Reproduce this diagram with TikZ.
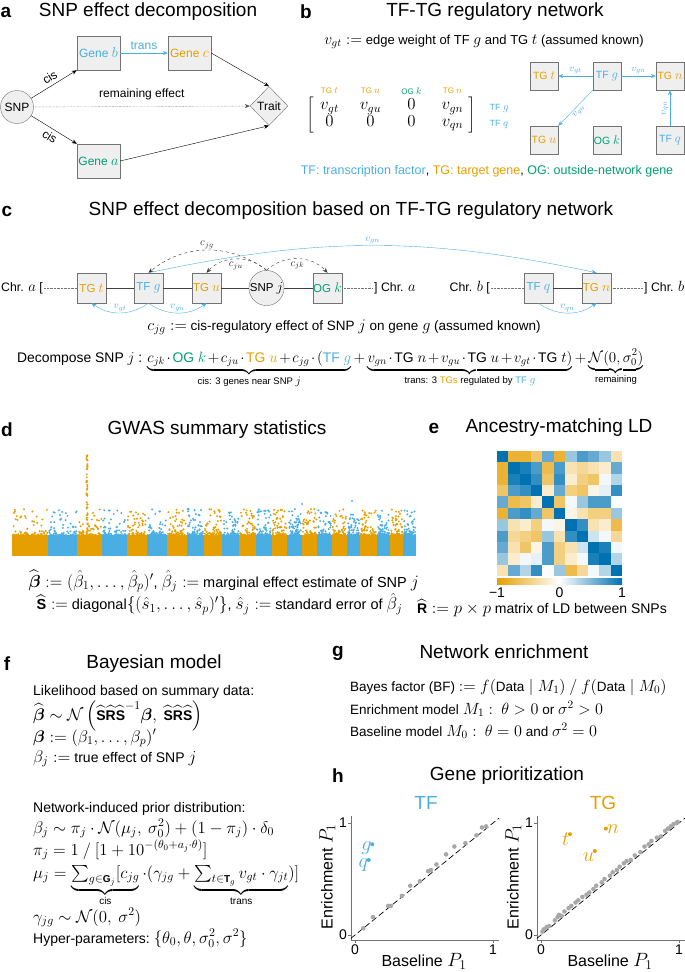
\RequirePackage{fix-cm}
\documentclass[tikz,border=0pt]{standalone}
\usepackage{amsmath,amssymb}
\usepackage{fontspec}
\setmainfont{Liberation Sans}
\setsansfont{Liberation Sans}
\usepackage{xcolor}
\usetikzlibrary{arrows.meta, shapes.geometric, positioning, matrix}

% math a bit larger than the sans text, as in the figure
\DeclareMathSizes{8}{9.6}{7}{5}
\DeclareMathSizes{8.5}{10.2}{7.2}{5.2}
\DeclareMathSizes{9}{10.8}{7.6}{5.4}
\DeclareMathSizes{9.5}{11.4}{8}{5.7}
\DeclareMathSizes{10}{12}{8.4}{6}
\DeclareMathSizes{10.5}{12.6}{8.8}{6.3}
\DeclareMathSizes{11.5}{13.8}{9.7}{6.9}
\DeclareMathSizes{12}{14.4}{10.1}{7.2}
\DeclareMathSizes{12.3}{14.8}{10.4}{7.4}
\DeclareMathSizes{13}{15.6}{10.9}{7.8}
\DeclareMathSizes{13.5}{16.2}{11.3}{8.1}
\DeclareMathSizes{13.9}{15}{10.5}{7.5}
\DeclareMathSizes{14}{16.8}{11.8}{8.4}
\DeclareMathSizes{14.5}{17.4}{12.2}{8.7}
\DeclareMathSizes{16}{19.2}{13.4}{9.6}
\DeclareMathSizes{17}{20.4}{14.3}{10.2}

\definecolor{TFblue}{HTML}{4AAEE3}
\definecolor{TGorange}{HTML}{E69F00}
\definecolor{OGgreen}{HTML}{009E73}
\definecolor{LDblue}{HTML}{0072B2}
\definecolor{boxgray}{HTML}{EFEFEF}
\definecolor{dotgray}{HTML}{A8A8A8}

\newcommand{\fsz}[1]{\fontsize{#1}{#1}\selectfont}
\newcommand{\defeq}{\mathrel{:=}}
\newcommand{\bbeta}{\boldsymbol{\beta}}
\newcommand{\hatS}{\widehat{\mbox{\bfseries S}}}
\newcommand{\hatR}{\widehat{\mbox{\bfseries R}}}

\begin{document}
\begin{tikzpicture}[x=1pt, y=-1pt,
    panel/.style={font=\fsz{19}\bfseries},
    ttl/.style={font=\fsz{19}},
    genebox/.style={draw=black!55, fill=boxgray, minimum width=43pt, minimum height=34pt, inner sep=1pt, font=\fsz{12}},
    smallbox/.style={draw=black!55, fill=boxgray, minimum size=28pt, inner sep=0.5pt, font=\fsz{10.5}},
    cbox/.style={draw=black!55, fill=boxgray, minimum width=29pt, minimum height=30pt, inner sep=0.5pt, font=\fsz{11.5}},
    chrlab/.style={font=\fsz{12.3}, inner sep=1pt},
    arr/.style={-{Stealth[length=5pt,width=4pt]}},
    tfarr/.style={arr, TFblue},
    elab/.style={font=\fsz{8}, text=TFblue, inner sep=1.5pt},
    vlab/.style={font=\fsz{8.5}, text=TFblue, inner sep=1pt},
    clab/.style={font=\fsz{9}, inner sep=1pt},
    axisline/.style={black!55, line width=0.6pt},
    ticklab/.style={font=\fsz{14}, inner sep=1pt},
    fline/.style={font=\fsz{14}, anchor=base west, inner sep=0pt},
    gline/.style={font=\fsz{13.5}, anchor=base west, inner sep=0pt}
  ]
  \useasboundingbox (0,0) rectangle (685,972);

  % ---------------- a: SNP effect decomposition
  \node[panel] (la) at (6,12) {a};
  \node[ttl] (ta) at (148,12) {SNP effect decomposition};
  \node[circle, draw=black!55, fill=boxgray, minimum size=33pt, inner sep=0pt, font=\fsz{12}] (snp) at (17,107) {SNP};
  \node[genebox, text=TFblue] (geneb) at (98.5,53) {Gene $b$};
  \node[genebox, text=TGorange] (genec) at (189.5,53) {Gene $c$};
  \node[genebox, text=OGgreen] (genea) at (98.5,161) {Gene $a$};
  \node[diamond, draw=black!55, fill=boxgray, minimum width=38pt, minimum height=39pt, inner sep=0pt, font=\fsz{12}] (trait) at (269,106) {Trait};

  \draw[arr] (snp) -- node[sloped, above, font=\fsz{12}] {cis} (geneb.south west);
  \draw[arr] (snp) -- node[sloped, below, font=\fsz{12}] {cis} (genea.north west);
  \draw[arr, densely dotted, black!70] (snp) -- node[above=3pt, font=\fsz{12}, text=black] {remaining effect} (trait);
  \draw[tfarr] (geneb) -- node[above, font=\fsz{12}] {trans} (genec);
  \draw[arr] (genec.east) -- (trait.north);
  \draw[arr] (genea.east) -- (trait.south);

  % ---------------- b: TF-TG regulatory network
  \node[panel] (lb) at (306,12) {b};
  \node[ttl] (tb) at (495,12) {TF-TG regulatory network};
  \node[font=\fsz{13}] (bdef) at (484,42) {$v_{gt} \defeq$ edge weight of TF $g$ and TG $t$ (assumed known)};

  \matrix (adj) at (391,115) [matrix of math nodes, left delimiter={[}, right delimiter={]},
      nodes={minimum width=22pt, inner sep=0.3pt, font=\fsz{14}}, column sep=19pt, row sep=0pt] {
    v_{gt} & v_{gu} & 0 & v_{gn} \\
    0 & 0 & 0 & v_{qn} \\
  };
  \coordinate (hdr) at (0,91);
  \coordinate (rowx) at (486,0);
  \node[font=\fsz{8}, text=TGorange] (h1) at (adj-1-1 |- hdr) {TG $t$};
  \node[font=\fsz{8}, text=TGorange] (h2) at (adj-1-2 |- hdr) {TG $u$};
  \node[font=\fsz{8}, text=OGgreen] (h3) at (adj-1-3 |- hdr) {OG $k$};
  \node[font=\fsz{8}, text=TGorange] (h4) at (adj-1-4 |- hdr) {TG $n$};
  \node[font=\fsz{9}, text=TFblue, anchor=west] (r1) at (adj-1-4 -| rowx) {TF $g$};
  \node[font=\fsz{9}, text=TFblue, anchor=west] (r2) at (adj-2-4 -| rowx) {TF $q$};

  \node[smallbox, text=TGorange] (nTGt) at (544,76) {TG $t$};
  \node[smallbox, text=TFblue] (nTFg) at (607,76) {TF $g$};
  \node[smallbox, text=TGorange] (nTGn) at (670,76) {TG $n$};
  \node[smallbox, text=TGorange] (nTGu) at (544,140) {TG $u$};
  \node[smallbox, text=OGgreen] (nOGk) at (607,140) {OG $k$};
  \node[smallbox, text=TFblue] (nTFq) at (670,140) {TF $q$};
  \draw[tfarr] (nTFg) -- node[above, elab] {$v_{gt}$} (nTGt);
  \draw[tfarr] (nTFg) -- node[above, elab] {$v_{gn}$} (nTGn);
  \draw[tfarr] (nTFg.south west) -- node[sloped, below, elab] {$v_{gu}$} (nTGu.north east);
  \draw[tfarr] (nTFq) -- node[sloped, above, elab] {$v_{qn}$} (nTGn);

  \node[font=\fsz{12.5}] (legend) at (487,171) {\textcolor{TFblue}{TF: transcription factor}, \textcolor{TGorange}{TG: target gene}, \textcolor{OGgreen}{OG: outside-network gene}};

  % ---------------- c: decomposition on the network
  \node[panel] (lc) at (7,211) {c};
  \node[ttl] (tc) at (351,211) {SNP effect decomposition based on TF-TG regulatory network};

  \node[chrlab, anchor=east] (chra1) at (44,288) {Chr. $a$ [};
  \node[cbox, text=TGorange] (cTGt) at (91.5,288) {TG $t$};
  \node[cbox, text=TFblue] (cTFg) at (148.5,288) {TF $g$};
  \node[cbox, text=TGorange] (cTGu) at (206.5,288) {TG $u$};
  \node[circle, draw=black!55, fill=boxgray, minimum size=34pt, inner sep=0pt, font=\fsz{11.5}] (cSNP) at (266.5,288) {SNP $j$};
  \node[cbox, text=OGgreen] (cOGk) at (327.5,288) {OG $k$};
  \node[chrlab, anchor=west] (chra2) at (373,288) {] Chr. $a$};
  \node[chrlab, anchor=east] (chrb1) at (491,288) {Chr. $b$ [};
  \node[cbox, text=TFblue] (cTFq) at (538.5,288) {TF $q$};
  \node[cbox, text=TGorange] (cTGn) at (596.5,288) {TG $n$};
  \node[chrlab, anchor=west] (chrb2) at (643,288) {] Chr. $b$};

  \draw[densely dotted, black!55] (chra1) -- (cTGt);
  \draw[densely dotted, black!55] (cOGk) -- (chra2);
  \draw[densely dotted, black!55] (chrb1) -- (cTFq);
  \draw[densely dotted, black!55] (cTGn) -- (chrb2);
  \draw[black!75] (cTGt) -- (cTFg) -- (cTGu) -- (cSNP) -- (cOGk);
  \draw[black!75] (cTFq) -- (cTGn);

  \draw[arr, dashed, black!80] (cSNP.north) to[bend right=38] node[above, clab] {$c_{jg}$} (cTFg.north);
  \draw[arr, dashed, black!80] (cSNP.north) to[bend right=45] node[below=1.5pt, clab] {$c_{ju}$} (cTGu.north);
  \draw[arr, dashed, black!80] (cSNP.north) to[bend left=45] node[below=1.5pt, clab] {$c_{jk}$} (cOGk.north);
  \draw[tfarr] (cTFg.north) to[bend left=12] node[above, vlab] {$v_{gn}$} (cTGn.north);
  \draw[tfarr] (cTFg.south) to[bend left=35] node[above, vlab] {$v_{gt}$} (cTGt.south);
  \draw[tfarr] (cTFg.south) to[bend right=35] node[above, vlab] {$v_{gu}$} (cTGu.south);
  \draw[tfarr] (cTFq.south) to[bend right=35] node[above, vlab] {$v_{qn}$} (cTGn.south);

  \node[font=\fsz{13.5}] (cdef) at (344,327) {$c_{jg} \defeq$ cis-regulatory effect of SNP $j$ on gene $g$ (assumed known)};
  \node[font=\fsz{13.9}, anchor=base west, inner sep=0pt] (decomp) at (17,362) {Decompose SNP $j$ : $\medmuskip=2mu
    \underbrace{c_{jk}\cdot\mbox{\textcolor{OGgreen}{OG $k$}} + c_{ju}\cdot\mbox{\textcolor{TGorange}{TG $u$}} + c_{jg}\cdot(\mbox{\textcolor{TFblue}{TF $g$}}}_{\mbox{\fsz{9.5}cis: 3 genes near SNP $j$}}
    + \underbrace{v_{gn}\cdot\mbox{TG $n$} + v_{gu}\cdot\mbox{TG $u$} + v_{gt}\cdot\mbox{TG $t$})}_{\mbox{\fsz{9.5}trans: 3 \textcolor{TGorange}{TGs} regulated by \textcolor{TFblue}{TF $g$}}}
    + \underbrace{\mathcal{N}(0,\sigma_0^2)}_{\mbox{\fsz{9.5}remaining}}$};

  % ---------------- d: GWAS summary statistics
  \node[panel] (ld) at (7,430) {d};
  \node[ttl] (td) at (217,430) {GWAS summary statistics};
  \pgfmathsetseed{42}
  \foreach \xa/\xb [count=\c] in {11.7/48.3, 48.3/77.3, 77.3/102.3, 102.3/126.7, 126.7/146.7, 146.7/166.7,
      166.7/186.7, 186.7/204, 204/221.7, 221.7/239.3, 239.3/256, 256/271.7, 271.7/287.3, 287.3/301.7,
      301.7/317.3, 317.3/331.7, 331.7/346.7, 346.7/360, 360/376.7, 376.7/390, 390/403.3, 403.3/416}{
    \ifodd\c \def\chrcol{TGorange}\else\def\chrcol{TFblue}\fi
    \fill[\chrcol] (\xa,556) rectangle (\xb,535);
    \foreach \k in {1,...,60}{
      \pgfmathsetmacro\px{\xa+0.8+rnd*(\xb-\xa-1.6)}
      \pgfmathsetmacro\py{535-26*rnd^3}
      \fill[\chrcol] (\px,\py) circle[radius=1.1pt];
    }
  }
  \foreach \k in {1,...,45}{
    \pgfmathsetmacro\px{86.4+rnd*1.2}
    \pgfmathsetmacro\py{455+rnd*80}
    \fill[TGorange] (\px,\py) circle[radius=1.1pt];
  }
  \foreach \px/\py/\cc in {14/513/TGorange, 25/516/TGorange, 60/515/TFblue, 173/517/TGorange,
      253/516/TGorange, 302/504/TFblue, 200/522/TFblue, 352/501/TFblue, 400/514/TGorange}{
    \fill[\cc] (\px,\py) circle[radius=1.1pt];
  }
  \node[font=\fsz{14.5}, anchor=west] (dl1) at (25,581) {$\widehat{\bbeta} \defeq (\hat\beta_1,\ldots,\hat\beta_p)'$,\ $\hat\beta_j \defeq$ marginal effect estimate of SNP $j$};
  \node[font=\fsz{14.5}, anchor=west] (dl2) at (33,604) {$\hatS \defeq$ diagonal$\{(\hat s_1,\ldots,\hat s_p)'\}$,\ $\hat s_j \defeq$ standard error of $\hat\beta_j$};

  % ---------------- e: Ancestry-matching LD
  \node[panel] (le) at (434,428) {e};
  \node[ttl] (te) at (559,428) {Ancestry-matching LD};
  \foreach \row [count=\i] in {
      {1,-0.8,-0.8,-0.6,0.6,-0.8,0.4,0.7,0.6,0.4,-0.3},
      {-0.8,1,0.9,0.7,-0.7,0.7,-0.3,-0.4,-0.3,-0.2,0.6},
      {-0.8,0.9,1,0.8,-0.6,0.8,-0.2,-0.5,-0.6,0.05,0.3},
      {-0.6,0.7,0.8,1,-0.2,0.6,-0.5,-0.6,-0.1,0.1,0.8},
      {0.6,-0.7,-0.6,-0.2,1,-0.6,0.05,0.4,0.7,0.7,0.02},
      {-0.8,0.7,0.8,0.6,-0.6,1,-0.1,-0.3,-0.5,-0.5,0.4},
      {0.4,-0.3,-0.2,-0.5,0.05,-0.1,1,0.8,-0.3,-0.2,-0.7},
      {0.7,-0.4,-0.5,-0.6,0.4,-0.3,0.8,1,0.2,0.05,-0.4},
      {0.6,-0.3,-0.6,-0.1,0.7,-0.5,-0.3,0.2,1,0.9,0.05},
      {0.4,-0.2,0.05,0.1,0.7,-0.5,-0.2,0.05,0.9,1,0.3},
      {-0.3,0.6,0.3,0.8,0.02,0.4,-0.7,-0.4,0.05,0.3,1}}{
    \foreach \v [count=\j] in \row {
      \pgfmathsetmacro\pct{abs(\v)*100}
      \ifdim \v pt>0pt \def\hc{LDblue}\else\def\hc{TGorange}\fi
      \fill[\hc!\pct!white] ({497+(\j-1)*11.36},{451+(\i-1)*11.36}) rectangle ++(11.36,11.36);
    }
  }
  \shade[left color=TGorange, right color=LDblue, middle color=white] (497,578) rectangle (622,584);
  \node[ticklab] (cb1) at (497,593) {−1};
  \node[ticklab] (cb2) at (559.5,593) {0};
  \node[ticklab] (cb3) at (622,593) {1};
  \node[font=\fsz{14}] (el) at (542,608) {$\hatR \defeq p\times p$ matrix of LD between SNPs};

  % ---------------- f: Bayesian model
  \node[panel] (lf) at (7,664) {f};
  \node[ttl] (tf) at (154,664) {Bayesian model};
  \node[fline] (f1) at (33,695) {Likelihood based on summary data:};
  \node[fline] (f2) at (33,720) {$\widehat{\bbeta} \sim \mathcal{N}\left(\hatS\hatR\hatS^{-1}\bbeta,\ \hatS\hatR\hatS\right)$};
  \node[fline] (f3) at (33,742) {$\bbeta \defeq (\beta_1,\ldots,\beta_p)'$};
  \node[fline] (f4) at (33,762) {$\beta_j \defeq$ true effect of SNP $j$};
  \node[fline] (f5) at (33,812) {Network-induced prior distribution:};
  \node[fline] (f6) at (33,833) {$\beta_j \sim \pi_j\cdot\mathcal{N}(\mu_j,\ \sigma_0^2) + (1-\pi_j)\cdot\delta_0$};
  \node[fline] (f7) at (33,855) {$\pi_j = 1\ /\ [1+10^{-(\theta_0+a_j\cdot\theta)}]$};
  \node[fline] (f8) at (33,878) {$\mu_j = \underbrace{\textstyle\sum_{g\in\mbox{\fsz{10}\bfseries G}_j}[c_{jg}}_{\mbox{\fsz{10}cis}}\cdot(\gamma_{jg} + \underbrace{\textstyle\sum_{t\in\mbox{\fsz{10}\bfseries T}_g} v_{gt}\cdot\gamma_{jt}}_{\mbox{\fsz{10}trans}})]$};
  \node[fline] (f9) at (33,922) {$\gamma_{jg}\sim\mathcal{N}(0,\ \sigma^2)$};
  \node[fline] (f10) at (33,943) {Hyper-parameters:\ $\{\theta_0,\theta,\sigma_0^2,\sigma^2\}$};

  % ---------------- g: Network enrichment
  \node[panel] (lg) at (338,653) {g};
  \node[ttl] (tg) at (504,652) {Network enrichment};
  \node[gline] (g1) at (350,691) {Bayes factor (BF) $\defeq f(\mbox{Data}\mid M_1)\ /\ f(\mbox{Data}\mid M_0)$};
  \node[gline] (g2) at (350,714) {Enrichment model $M_1:\ \theta>0$ or $\sigma^2>0$};
  \node[gline] (g3) at (350,736) {Baseline model $M_0:\ \theta=0$ and $\sigma^2=0$};

  % ---------------- h: Gene prioritization
  \node[panel] (lh) at (338,776) {h};
  \node[ttl] (th) at (507,776) {Gene prioritization};
  \node[font=\fsz{19}, text=TFblue] (hTF) at (426,803) {TF};
  \node[font=\fsz{19}, text=TGorange] (hTG) at (603,803) {TG};

  \begin{scope}[shift={(355,935)}, x=138pt, y=112pt]
    \draw[axisline] (-0.03,1.06) -- (-0.03,-0.045) -- (1.045,-0.045);
    \foreach \t in {0,1}{
      \draw[axisline] (-0.03,\t) -- (-0.052,\t);
      \draw[axisline] (\t,-0.045) -- (\t,-0.072);
      \node[ticklab, anchor=east] at (-0.05,\t) {\t};
      \node[ticklab, anchor=north] at (\t,-0.075) {\t};
    }
    \draw[dashed, dash pattern=on 6pt off 3pt, line width=0.7pt] (-0.03,-0.03) -- (1.045,1.045);
    \foreach \px/\py in {0.06/0.06, 0.13/0.16, 0.24/0.26, 0.26/0.26, 0.34/0.35, 0.40/0.44, 0.47/0.48,
        0.53/0.57, 0.55/0.58, 0.59/0.63, 0.66/0.72, 0.72/0.79, 0.80/0.82, 0.88/0.89, 0.92/0.96, 0.95/0.97}{
      \fill[dotgray] (\px,\py) circle[radius=2.3pt];
    }
    \fill[TFblue] (0.125,0.81) circle[radius=2pt] node[left, font=\fsz{17}, text=TFblue, inner sep=0.5pt, yshift=-4pt] {$g$};
    \fill[TFblue] (0.10,0.67) circle[radius=2pt] node[left, font=\fsz{17}, text=TFblue, inner sep=0.5pt, yshift=-5pt] {$q$};
    \node[font=\fsz{16}] (hxTF) at (0.5,-0.235) {Baseline $P_1$};
    \node[font=\fsz{16}, rotate=90] (hyTF) at (-0.2,0.52) {Enrichment $P_1$};
  \end{scope}

  \begin{scope}[shift={(541,935)}, x=138pt, y=112pt]
    \draw[axisline] (-0.03,1.06) -- (-0.03,-0.045) -- (1.045,-0.045);
    \foreach \t in {0,1}{
      \draw[axisline] (-0.03,\t) -- (-0.052,\t);
      \draw[axisline] (\t,-0.045) -- (\t,-0.072);
      \node[ticklab, anchor=east] at (-0.05,\t) {\t};
      \node[ticklab, anchor=north] at (\t,-0.075) {\t};
    }
    \draw[dashed, dash pattern=on 6pt off 3pt, line width=0.7pt] (-0.03,-0.03) -- (1.045,1.045);
    \foreach \px/\py in {0.01/0.03, 0.02/0.05, 0.04/0.07, 0.06/0.08, 0.10/0.13, 0.12/0.16, 0.13/0.18,
        0.15/0.17, 0.17/0.21, 0.20/0.24, 0.22/0.26, 0.25/0.29, 0.27/0.31, 0.30/0.34, 0.33/0.36,
        0.35/0.38, 0.38/0.41, 0.40/0.44, 0.44/0.47, 0.46/0.50, 0.50/0.53, 0.52/0.56, 0.55/0.58,
        0.57/0.61, 0.60/0.64, 0.62/0.66, 0.65/0.67, 0.68/0.71, 0.72/0.74, 0.75/0.79, 0.78/0.81,
        0.80/0.84, 0.84/0.87, 0.87/0.88, 0.90/0.93, 0.92/0.95, 0.94/0.97, 0.96/0.99, 0.98/1.00, 0.99/1.01}{
      \fill[dotgray] (\px,\py) circle[radius=2.3pt];
    }
    \fill[TGorange] (0.21,0.90) circle[radius=2pt] node[left, font=\fsz{17}, text=TGorange, inner sep=0.5pt, yshift=-5pt] {$t$};
    \fill[TGorange] (0.39,0.75) circle[radius=2pt] node[left, font=\fsz{17}, text=TGorange, inner sep=0.5pt, yshift=-6pt] {$u$};
    \fill[TGorange] (0.47,0.95) circle[radius=2pt] node[right, font=\fsz{17}, text=TGorange, inner sep=1pt] {$n$};
    \node[font=\fsz{16}] (hxTG) at (0.5,-0.235) {Baseline $P_1$};
    \node[font=\fsz{16}, rotate=90] (hyTG) at (-0.2,0.52) {Enrichment $P_1$};
  \end{scope}
\end{tikzpicture}
\end{document}
